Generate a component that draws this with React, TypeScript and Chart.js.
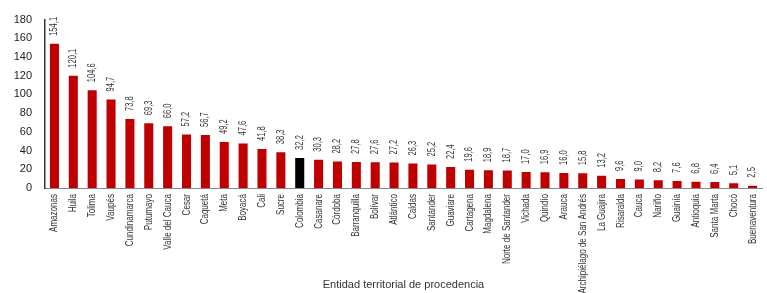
import React, { useEffect, useRef } from "react";
import { Chart, registerables } from "chart.js";

Chart.register(...registerables);

const categories: string[] = [
  "Amazonas", "Huila", "Tolima", "Vaupés", "Cundinamarca", "Putumayo", "Valle del Cauca",
  "Cesar", "Caquetá", "Meta", "Boyacá", "Cali", "Sucre", "Colombia", "Casanare", "Córdoba",
  "Barranquilla", "Bolívar", "Atlántico", "Caldas", "Santander", "Guaviare", "Cartagena",
  "Magdalena", "Norte de Santander", "Vichada", "Quindío", "Arauca",
  "Archipiélago de San Andrés", "La Guajira", "Risaralda", "Cauca", "Nariño", "Guainía",
  "Antioquia", "Santa Marta", "Chocó", "Buenaventura",
];

const values: number[] = [
  154.1, 120.1, 104.6, 94.7, 73.8, 69.3, 66.0, 57.2, 56.7, 49.2, 47.6, 41.8, 38.3, 32.2,
  30.3, 28.2, 27.8, 27.6, 27.2, 26.3, 25.2, 22.4, 19.6, 18.9, 18.7, 17.0, 16.9, 16.0, 15.8,
  13.2, 9.6, 9.0, 8.2, 7.6, 6.8, 6.4, 5.1, 2.5,
];

const highlight = "Colombia";
const yMin = 0;
const yMax = 180;
const yStep = 20;
const xTitle = "Entidad territorial de procedencia";

const SANS = "'Liberation Sans', Arial, sans-serif";
const CONDENSE = 0.72;

const valueLabelPlugin = {
  id: "valueLabels",
  afterDatasetsDraw(chart: any) {
    const ctx = chart.ctx;
    const meta = chart.getDatasetMeta(0);
    ctx.save();
    ctx.font = `10.5px ${SANS}`;
    ctx.fillStyle = "#333";
    ctx.textAlign = "left";
    ctx.textBaseline = "middle";
    meta.data.forEach((bar: any, i: number) => {
      const txt = values[i].toFixed(1).replace(".", ",");
      ctx.save();
      ctx.translate(bar.x, bar.y - 8);
      ctx.rotate(-Math.PI / 2);
      ctx.scale(CONDENSE, 1);
      ctx.fillText(txt, 0, 0);
      ctx.restore();
    });
    ctx.restore();
  },
};

const xLabelPlugin = {
  id: "xLabelsCondensed",
  afterDraw(chart: any) {
    const ctx = chart.ctx;
    const xs = chart.scales.x;
    const area = chart.chartArea;
    ctx.save();
    ctx.font = `11px ${SANS}`;
    ctx.fillStyle = "#333";
    ctx.textAlign = "right";
    ctx.textBaseline = "middle";
    categories.forEach((c, i) => {
      const x = xs.getPixelForTick(i);
      ctx.save();
      ctx.translate(x, area.bottom + 6);
      ctx.rotate(-Math.PI / 2);
      ctx.scale(0.73, 1);
      ctx.fillText(c, 0, 0);
      ctx.restore();
    });
    ctx.font = `11px ${SANS}`;
    ctx.textAlign = "center";
    ctx.fillText(xTitle, (area.left + area.right) / 2, chart.height - 8);
    ctx.restore();
  },
};

export default function App() {
  const ref = useRef<HTMLCanvasElement>(null);

  useEffect(() => {
    document.body.style.margin = "0";
    const canvas = ref.current;
    if (!canvas) return;
    const chart = new Chart(canvas, {
      type: "bar",
      data: {
        labels: categories,
        datasets: [
          {
            data: values,
            backgroundColor: categories.map((c) => (c === highlight ? "#000000" : "#C00000")),
            barPercentage: 0.48,
            categoryPercentage: 1,
          },
        ],
      },
      options: {
        animation: false,
        responsive: false,
        maintainAspectRatio: false,
        layout: { padding: { top: 6, right: 5, left: 0, bottom: 0 } },
        plugins: {
          legend: { display: false },
          tooltip: { enabled: false },
        },
        scales: {
          x: {
            grid: { display: false, drawTicks: false },
            border: { display: true, color: "#888", width: 1 },
            ticks: { display: false },
            afterFit(scale: any) {
              scale.height = 105;
            },
          },
          y: {
            min: yMin,
            max: yMax,
            grid: { display: false, drawTicks: false },
            border: { display: true, color: "#333", width: 1.5 },
            ticks: {
              stepSize: yStep,
              padding: 13,
              color: "#222",
              font: { family: SANS, size: 11 },
            },
            afterFit(scale: any) {
              scale.width = 45;
            },
          },
        },
      },
      plugins: [valueLabelPlugin, xLabelPlugin],
    });
    return () => chart.destroy();
  }, []);

  return <canvas ref={ref} width={767} height={293} style={{ display: "block" }} />;
}
